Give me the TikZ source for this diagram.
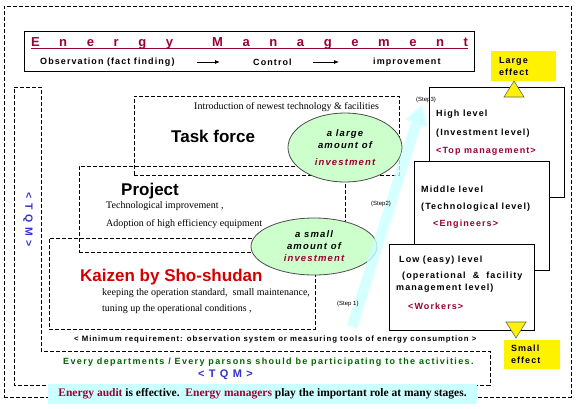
\documentclass[tikz,border=0pt]{standalone}
\usepackage{fontspec}
\setmainfont{Liberation Serif}
\setsansfont{Liberation Sans}
\newfontfamily\ancha{Liberation Sans}[LetterSpace=12]
\newfontfamily\anchamedia{Liberation Sans}[LetterSpace=15]
\newfontfamily\anchisima{Liberation Sans}[LetterSpace=18]
\usetikzlibrary{shapes.geometric,arrows.meta}
\definecolor{granate}{RGB}{153,0,51}
\definecolor{rojo}{RGB}{210,0,0}
\definecolor{verde}{RGB}{0,102,0}
\definecolor{azul}{RGB}{51,51,204}
\definecolor{verdeclaro}{RGB}{204,255,204}
\definecolor{cian}{RGB}{204,255,255}
\begin{document}
\begin{tikzpicture}[
  x=1pt, y=-1pt,
  marco/.style={draw, dash pattern=on 4pt off 2pt, line width=0.8pt, inner sep=0pt},
  nivel/.style={draw, fill=white, line width=1pt, inner sep=0pt},
  elipse/.style={ellipse, draw=black!70, fill=verdeclaro, line width=0.8pt, inner sep=0pt, align=center, font=\ancha\bfseries\itshape\fontsize{9.5}{12}\selectfont},
  letrero/.style={anchor=west, inner sep=0pt, font=\ancha\bfseries\fontsize{9}{12}\selectfont},
  texto/.style={anchor=west, inner sep=0pt, font=\rmfamily\fontsize{10}{12}\selectfont},
  titulo/.style={anchor=west, inner sep=0pt, font=\sffamily\bfseries\fontsize{17}{20}\selectfont},
  paso/.style={anchor=west, inner sep=0pt, font=\sffamily\fontsize{6}{7}\selectfont},
  efecto/.style={fill=yellow, align=left, inner ysep=0pt, font=\ancha\bfseries\fontsize{9}{12}\selectfont},
  flechita/.style={-{Latex[length=5pt,width=4pt]}, line width=0.8pt},
  triangulo/.style={fill=yellow, draw=black!60, line width=0.6pt}
]
  \useasboundingbox (0,0) rectangle (577,408);

  % Marcos exteriores
  \node[marco, minimum width=567, minimum height=391] (exterior) at (287.5,201.5) {};
  \node[draw, line width=1pt, minimum width=450, minimum height=40] (cabecera) at (249,51) {};
  \draw[dash pattern=on 4pt off 2pt, line width=0.8pt] (14,87) -- (41,87) -- (41,351) -- (490,351) -- (490,385) -- (14,385) -- cycle;

  % Marcos de las actividades
  \node[marco, minimum width=265, minimum height=79] (tarea) at (266.5,135.5) {};
  \node[marco, minimum width=266, minimum height=86] (proyecto) at (212,209) {};
  \node[marco, minimum width=266, minimum height=91] (kaizen) at (182,283.5) {};

  % Niveles de la derecha
  \node[nivel, minimum width=135, minimum height=110] (alto) at (496.5,142) {};
  \node[nivel, minimum width=135, minimum height=109] (medio) at (481.5,215.5) {};
  \node[nivel, minimum width=145, minimum height=86] (bajo) at (461.5,287) {};

  % Efectos
  \node[efecto, text width=49pt, inner xsep=8pt, minimum height=30] (grande) at (523.5,66) {Large\\effect};
  \node[efecto, text width=42pt, inner xsep=7pt, minimum height=29] (pequeno) at (532,354.5) {Small\\effect};
  \draw[triangulo] (514,81) -- (524,97) -- (504,97) -- cycle;
  \draw[triangulo] (506,322) -- (526,322) -- (516,338) -- cycle;

  % Inversiones
  \node[elipse, minimum width=114, minimum height=69] (inv1) at (345,147.5) {a large\\amount of\\[5pt]\textcolor{granate}{investment}};
  \node[elipse, minimum width=126, minimum height=57] (inv2) at (314,246.5) {a small\\amount of\\\textcolor{granate}{investment}};

  % Flecha de los pasos
  \coordinate (paso1) at (352,327);
  \coordinate (paso3) at (422,105);
  \draw[cian, opacity=0.8, line width=10.5pt, -{Triangle[length=19pt,width=22pt]}] (paso1) -- (paso3);
  \node[paso] (p1) at (337,304) {(Step 1)};
  \node[paso] (p2) at (371,204) {(Step2)};
  \node[paso] (p3) at (416,100) {(Step3)};

  % Cabecera
  \node[anchor=base, inner sep=0pt, text=granate, font=\sffamily\bfseries\fontsize{13}{15}\selectfont] (energia) at (249.5,46) {\makebox[437pt][s]{E n e r g y \ M a n a g e m e n t}};
  \draw[granate, line width=0.9pt] ([yshift=-2pt]energia.base west) -- ([yshift=-2pt]energia.base east);
  \node[letrero] (obs) at (40,62) {Observation (fact finding)};
  \node[letrero] (control) at (253,62) {Control};
  \node[letrero] (mejora) at (373,62) {improvement};
  \draw[flechita, shorten <=22pt, shorten >=33pt] (obs) -- (control);
  \draw[flechita, shorten <=21pt, shorten >=34pt] (control) -- (mejora);

  % Textos de las actividades
  \node[texto] (intro) at (194,107) {Introduction of newest technology \& facilities};
  \node[titulo] (tf) at (171,136) {Task force};
  \node[titulo] (pr) at (121,191) {Project};
  \node[texto] (tec) at (106,206) {Technological improvement ,};
  \node[texto] (adop) at (106,224) {Adoption of high efficiency equipment};
  \node[titulo, text=rojo] (kz) at (80,277) {Kaizen by Sho-shudan};
  \node[texto] (std) at (102,293) {keeping the operation standard,\ \ small maintenance,};
  \node[texto] (tun) at (102,309) {tuning up the operational conditions ,};

  % Textos de los niveles
  \node[letrero] (a1) at (436,114) {High level};
  \node[letrero] (a2) at (436,133) {(Investment level)};
  \node[letrero, text=granate] (a3) at (436,151) {<Top management>};
  \node[letrero] (m1) at (421,189) {Middle level};
  \node[letrero] (m2) at (421,207) {(Technological level)};
  \node[letrero, text=granate] (m3) at (433,224) {<Engineers>};
  \node[letrero] (b1) at (399,260) {Low (easy) level};
  \node[letrero] (b2) at (402,276) {(operational\ \ \&\ \ facility};
  \node[letrero] (b3) at (396,288) {management level)};
  \node[letrero, text=granate] (b4) at (408,306) {<Workers>};

  % TQM
  \node[letrero, anchor=center, text=azul, rotate=-90, font=\anchisima\bfseries\fontsize{10.5}{12}\selectfont] (tqm1) at (28,219.5) {< T Q M >};
  \node[letrero, font=\ancha\bfseries\fontsize{7.8}{9}\selectfont] (minimo) at (74,339) {< Minimum requirement: observation system or measuring tools of energy consumption >};
  \node[letrero, text=verde, font=\anchamedia\bfseries\fontsize{9}{12}\selectfont] (todos) at (63,362) {Every departments / Every parsons should be participating to the activities.};
  \node[letrero, anchor=center, text=azul, font=\ancha\bfseries\fontsize{11}{12}\selectfont] (tqm2) at (225.5,375) {< T Q M >};
  \node[fill=cian, minimum width=429, minimum height=20, inner sep=0pt, font=\rmfamily\bfseries\fontsize{11.5}{13}\selectfont] (auditoria) at (262.5,394) {\textcolor{granate}{Energy audit} is effective.\ \ \textcolor{granate}{Energy managers} play the important role at many stages.};
\end{tikzpicture}
\end{document}
